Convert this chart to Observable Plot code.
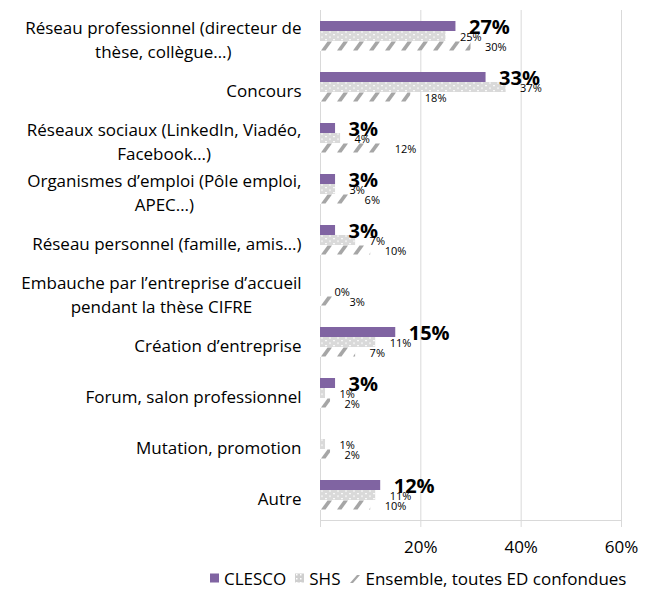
<!DOCTYPE html>
<html><head><meta charset="utf-8">
<script src="https://cdn.jsdelivr.net/npm/d3@7"></script>
<script src="https://cdn.jsdelivr.net/npm/@observablehq/plot@0.6"></script>
<style>
body{margin:0;background:#fff;font-family:"Open Sans",sans-serif;}
#legend{height:36px;display:flex;align-items:center;padding-left:210px;font:17px "Open Sans",sans-serif;color:#000;white-space:nowrap;}
#legend .it{display:flex;align-items:center;margin-right:9px;}
#legend svg{margin-right:4px;}
</style></head><body>
<div id="chart"></div>
<div id="legend"></div>
<script>
const categories = [
  "Réseau professionnel (directeur de\nthèse, collègue…)",
  "Concours",
  "Réseaux sociaux (LinkedIn, Viadéo,\nFacebook…)",
  "Organismes d’emploi (Pôle emploi,\nAPEC…)",
  "Réseau personnel (famille, amis…)",
  "Embauche par l’entreprise d’accueil\npendant la thèse CIFRE",
  "Création d’entreprise",
  "Forum, salon professionnel",
  "Mutation, promotion",
  "Autre"
];
const clesco   = [27, 33, 3, 3, 3, null, 15, 3, null, 12];
const shs      = [25, 37, 4, 3, 7, 0, 11, 1, 1, 11];
const ensemble = [30, 18, 12, 6, 10, 3, 7, 2, 2, 10];
const seriesNames = ["CLESCO", "SHS", "Ensemble, toutes ED confondues"];
const xTicks = [0, 20, 40, 60];

const mk = (arr, s) => categories.map((c, i) => ({cat: c, serie: s, value: arr[i]})).filter(d => d.value != null);
const rowsC = mk(clesco, seriesNames[0]);
const rowsS = mk(shs, seriesNames[1]);
const rowsE = mk(ensemble, seriesNames[2]);

const ctx = document.createElement("canvas").getContext("2d");
ctx.font = "17px 'Open Sans'";
const blockW = s => Math.max(...s.split("\n").map(l => ctx.measureText(l).width));

const purple = "#8064a2";
const labelMarks = categories.map(c => Plot.text([c], {
  frameAnchor: "left", y: d => d, text: d => d, textAnchor: "middle",
  dx: -(19 + blockW(c) / 2), dy: 2, fontSize: 17, lineHeight: 1.38, fill: "#000"
}));

const chart = Plot.plot({
  width: 650, height: 560,
  marginLeft: 320, marginRight: 29, marginTop: 10, marginBottom: 40,
  style: {fontFamily: "'Open Sans', sans-serif", background: "#fff"},
  x: {domain: [0, 60], axis: null, label: null},
  y: {type: "band", domain: categories, paddingInner: 21/51, paddingOuter: 10.5/51, axis: null},
  marks: [
    Plot.ruleX([20, 40, 60], {stroke: "#d9d9d9"}),
    Plot.ruleX([0], {stroke: "#d9d9d9"}),
    Plot.frame({anchor: "bottom", stroke: "#d9d9d9"}),
    Plot.axisX({ticks: xTicks, tickFormat: d => d ? d + "%" : "", tickSize: 7, tickPadding: 13,
      stroke: "#d9d9d9", fill: "#000", fontSize: 17, label: null}),
    Plot.barX(rowsC, {x: "value", y: "cat", fill: purple, insetBottom: 20}),
    Plot.barX(rowsS, {x: "value", y: "cat", fill: "url(#dots)", insetTop: 10, insetBottom: 10}),
    Plot.barX(rowsE, {x: "value", y: "cat", fill: "url(#hatch)", insetTop: 20}),
    Plot.text(rowsS, {x: "value", y: "cat", text: d => d.value + "%", textAnchor: "start", dx: 14, dy: 1, fontSize: 11, fill: "#000"}),
    Plot.text(rowsE, {x: "value", y: "cat", text: d => d.value + "%", textAnchor: "start", dx: 14, dy: 11, fontSize: 11, fill: "#000"}),
    Plot.text(rowsC, {x: "value", y: "cat", text: d => d.value + "%", textAnchor: "start", dx: 13, dy: -9, fontSize: 20, fontWeight: "bold", fill: "#000"}),
    ...labelMarks
  ]
});

const defs = `
<pattern id="dots" patternUnits="userSpaceOnUse" x="320" y="0" width="8" height="5.1">
  <rect width="8" height="5.1" fill="#d9d9d9"/>
  <rect x="1" y="1" width="2" height="1" fill="#fff"/>
  <rect x="5" y="3.5" width="2" height="1" fill="#fff"/>
</pattern>
<pattern id="hatch" patternUnits="userSpaceOnUse" x="320" y="10" width="16" height="51">
  <rect width="16" height="51" fill="#fff"/>
  <polygon points="1,40.5 5.5,40.5 12,31.5 7.5,31.5" fill="#a6a6a6"/>
</pattern>`;
d3.select(chart).insert("defs", ":first-child").html(defs);
document.getElementById("chart").appendChild(chart);

const sw = [
  `<svg width="10" height="10"><rect width="9" height="9" y="0.5" fill="${purple}"/></svg>`,
  `<svg width="10" height="10"><defs><pattern id="ldots" patternUnits="userSpaceOnUse" width="4" height="4"><rect width="4" height="4" fill="#cfcfcf"/><rect x="1" y="1" width="1.5" height="1.5" fill="#fff"/></pattern></defs><rect width="9" height="9" y="0.5" fill="url(#ldots)"/></svg>`,
  `<svg width="12" height="10"><polygon points="1,10 4,10 11,2 8,2" fill="#a6a6a6"/></svg>`
];
const leg = document.getElementById("legend");
seriesNames.forEach((s, i) => {
  const it = document.createElement("div");
  it.className = "it";
  it.innerHTML = sw[i] + `<span>${s}</span>`;
  leg.appendChild(it);
});
</script>
</body></html>
